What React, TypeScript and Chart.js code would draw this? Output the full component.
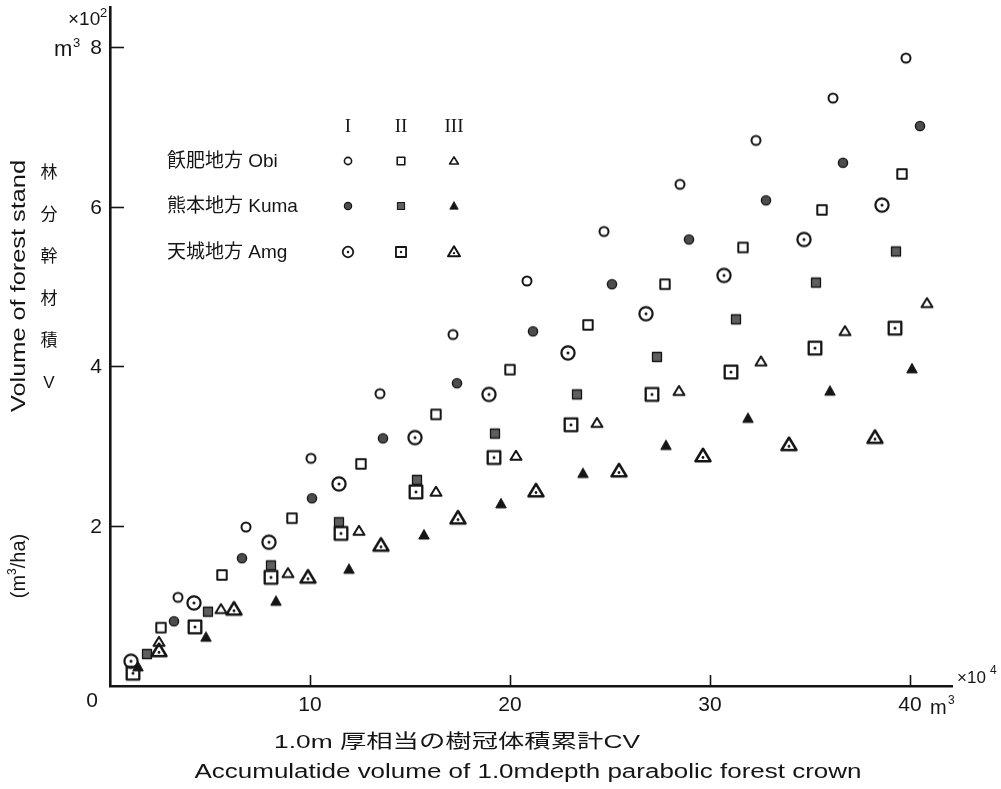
import React, { useEffect, useRef } from "react";
import { Chart, registerables } from "chart.js";

Chart.register(...registerables);

// Accumulated crown volume CV (×10^4 m³) and stand volume V (×10^2 m³/ha)
// Obi region
const OBI_I_CV = [3.4, 6.8, 10.05, 13.5, 17.15, 20.85, 24.7, 28.5, 32.3, 36.15, 39.8];
const OBI_I_V = [1.11, 1.99, 2.85, 3.66, 4.4, 5.07, 5.69, 6.28, 6.83, 7.36, 7.86];
const OBI_II_CV = [2.55, 5.6, 9.1, 12.55, 16.3, 20.0, 23.9, 27.75, 31.65, 35.6, 39.6];
const OBI_II_V = [0.73, 1.39, 2.1, 2.78, 3.4, 3.96, 4.52, 5.03, 5.49, 5.96, 6.41];
const OBI_III_CV = [2.45, 5.55, 8.9, 12.45, 16.3, 20.3, 24.35, 28.45, 32.55, 36.75, 40.85];
const OBI_III_V = [0.55, 0.96, 1.41, 1.94, 2.43, 2.88, 3.29, 3.69, 4.06, 4.44, 4.79];

// Kuma region
const KUMA_I_CV = [3.2, 6.6, 10.1, 13.65, 17.35, 21.15, 25.1, 28.95, 32.8, 36.65, 40.5];
const KUMA_I_V = [0.81, 1.6, 2.35, 3.1, 3.79, 4.44, 5.03, 5.59, 6.08, 6.55, 7.01];
const KUMA_II_CV = [1.85, 4.9, 8.05, 11.45, 15.35, 19.25, 23.35, 27.35, 31.3, 35.3, 39.3];
const KUMA_II_V = [0.4, 0.93, 1.51, 2.05, 2.58, 3.16, 3.65, 4.12, 4.59, 5.05, 5.44];
const KUMA_III_CV = [1.4, 4.8, 8.3, 11.95, 15.7, 19.55, 23.65, 27.8, 31.9, 36.0, 40.1];
const KUMA_III_V = [0.24, 0.61, 1.06, 1.46, 1.89, 2.28, 2.66, 3.01, 3.35, 3.69, 3.97];

// Amagi region
const AMG_I_CV = [1.05, 4.2, 7.95, 11.45, 15.25, 18.95, 22.9, 26.8, 30.7, 34.7, 38.6];
const AMG_I_V = [0.31, 1.04, 1.8, 2.53, 3.11, 3.65, 4.17, 4.66, 5.14, 5.59, 6.02];
const AMG_II_CV = [1.15, 4.25, 8.05, 11.55, 15.3, 19.2, 23.05, 27.1, 31.05, 35.25, 39.25];
const AMG_II_V = [0.16, 0.74, 1.36, 1.91, 2.43, 2.86, 3.27, 3.65, 3.93, 4.23, 4.48];
const AMG_III_CV = [2.45, 6.2, 9.9, 13.55, 17.4, 21.3, 25.45, 29.65, 33.95, 38.25];
const AMG_III_V = [0.44, 0.96, 1.36, 1.76, 2.1, 2.44, 2.69, 2.88, 3.02, 3.11];

const X_TICKS = [10, 20, 30, 40];
const Y_TICKS = [2, 4, 6, 8];
const REGION_LABELS = ["飫肥地方 Obi", "熊本地方 Kuma", "天城地方 Amg"];
const CLASS_LABELS = ["I", "II", "III"];
const Y_TITLE = "Volume of forest stand";
const Y_TITLE_JA = ["林", "分", "幹", "材", "積", "V"];
const X_TITLE_JA = "1.0m 厚相当の樹冠体積累計CV";
const X_TITLE_EN = "Accumulatide volume of 1.0mdepth parabolic forest crown";

const INK = "#151515";
const SANS = '"Liberation Sans", "Noto Sans CJK JP", sans-serif';
const SERIF = '"Liberation Serif", "DejaVu Serif", serif';

type MarkerKind =
  | "openCircle" | "filledCircle" | "dotCircle"
  | "openSquare" | "filledSquare" | "dotSquare"
  | "openTriangle" | "filledTriangle" | "dotTriangle";

// rows: region, columns: site class
const MARKER_GRID: MarkerKind[][] = [
  ["openCircle", "openSquare", "openTriangle"],
  ["filledCircle", "filledSquare", "filledTriangle"],
  ["dotCircle", "dotSquare", "dotTriangle"],
];

function makeMarker(kind: MarkerKind, scale = 1): HTMLCanvasElement {
  const S = 22;
  const c = document.createElement("canvas");
  c.width = S;
  c.height = S;
  const g = c.getContext("2d")!;
  g.translate(S / 2, S / 2);
  g.scale(scale, scale);
  g.strokeStyle = INK;
  g.fillStyle = INK;
  g.lineJoin = "round";
  const tri = (h: number, w: number, dy: number) => {
    g.beginPath();
    g.moveTo(0, -h * 0.58 + dy);
    g.lineTo(w / 2, h * 0.42 + dy);
    g.lineTo(-w / 2, h * 0.42 + dy);
    g.closePath();
  };
  switch (kind) {
    case "openCircle":
      g.lineWidth = 2;
      g.beginPath();
      g.arc(0, 0, 4.5, 0, Math.PI * 2);
      g.stroke();
      break;
    case "filledCircle":
      g.fillStyle = "#4d4d4d";
      g.beginPath();
      g.arc(0, 0, 4.6, 0, Math.PI * 2);
      g.fill();
      g.lineWidth = 1.4;
      g.stroke();
      break;
    case "dotCircle":
      g.lineWidth = 2.2;
      g.beginPath();
      g.arc(0, 0, 6.6, 0, Math.PI * 2);
      g.stroke();
      g.beginPath();
      g.arc(0, 0, 1.5, 0, Math.PI * 2);
      g.fill();
      break;
    case "openSquare":
      g.lineWidth = 2;
      g.strokeRect(-4.7, -4.7, 9.4, 9.4);
      break;
    case "filledSquare":
      g.fillStyle = "#5e5e5e";
      g.fillRect(-4.5, -4.5, 9, 9);
      g.lineWidth = 1.3;
      g.strokeRect(-4.5, -4.5, 9, 9);
      break;
    case "dotSquare":
      g.lineWidth = 2.3;
      g.strokeRect(-6.3, -6.3, 12.6, 12.6);
      g.beginPath();
      g.arc(0, 0, 1.5, 0, Math.PI * 2);
      g.fill();
      break;
    case "openTriangle":
      g.lineWidth = 2;
      tri(9, 11, 0);
      g.stroke();
      break;
    case "filledTriangle":
      tri(9.5, 10.5, 0);
      g.fill();
      g.lineWidth = 1;
      g.stroke();
      break;
    case "dotTriangle":
      g.lineWidth = 2.5;
      tri(12.5, 15, 0);
      g.stroke();
      g.beginPath();
      g.arc(0, 1.5, 1.4, 0, Math.PI * 2);
      g.fill();
      break;
  }
  return c;
}

function toPoints(xs: number[], ys: number[]) {
  return xs.map((x, i) => ({ x, y: ys[i] }));
}

// Draws text stretched horizontally to the requested width, centred on (cx, cy)
function fitText(
  ctx: CanvasRenderingContext2D,
  text: string,
  cx: number,
  cy: number,
  width: number,
  font: string,
  rotate = 0
) {
  ctx.save();
  ctx.font = font;
  ctx.textAlign = "center";
  ctx.textBaseline = "middle";
  const w = ctx.measureText(text).width;
  ctx.translate(cx, cy);
  if (rotate) ctx.rotate(rotate);
  ctx.scale(width / w, 1);
  ctx.fillText(text, 0, 0);
  ctx.restore();
}

export default function App() {
  const ref = useRef<HTMLCanvasElement | null>(null);

  useEffect(() => {
    document.body.style.margin = "0";
    const canvas = ref.current;
    if (!canvas) return;

    const seriesSrc: [number[], number[], number, number][] = [
      [AMG_II_CV, AMG_II_V, 2, 1],
      [AMG_III_CV, AMG_III_V, 2, 2],
      [AMG_I_CV, AMG_I_V, 2, 0],
      [OBI_II_CV, OBI_II_V, 0, 1],
      [OBI_III_CV, OBI_III_V, 0, 2],
      [OBI_I_CV, OBI_I_V, 0, 0],
      [KUMA_II_CV, KUMA_II_V, 1, 1],
      [KUMA_III_CV, KUMA_III_V, 1, 2],
      [KUMA_I_CV, KUMA_I_V, 1, 0],
    ];

    const datasets = seriesSrc.map(([xs, ys, r, c]) => ({
      label: `${REGION_LABELS[r]} ${CLASS_LABELS[c]}`,
      data: toPoints(xs, ys),
      pointStyle: makeMarker(MARKER_GRID[r][c]),
      pointRadius: 6,
      showLine: false,
    }));

    const legendMarkers = MARKER_GRID.map((row) => row.map((k) => makeMarker(k, 0.8)));

    const overlay = {
      id: "overlay",
      afterDraw(chart: any) {
        const { ctx, chartArea } = chart;
        const xs = chart.scales.x;
        const ys = chart.scales.y;
        ctx.save();
        ctx.strokeStyle = INK;
        ctx.fillStyle = INK;
        ctx.lineWidth = 1.6;

        // inward tick marks
        Y_TICKS.forEach((v) => {
          const py = Math.round(ys.getPixelForValue(v)) + 0.5;
          ctx.beginPath();
          ctx.moveTo(chartArea.left, py);
          ctx.lineTo(chartArea.left + 14, py);
          ctx.stroke();
        });
        X_TICKS.forEach((v) => {
          const px = Math.round(xs.getPixelForValue(v)) + 0.5;
          ctx.beginPath();
          ctx.moveTo(px, chartArea.bottom);
          ctx.lineTo(px, chartArea.bottom - 11);
          ctx.stroke();
        });

        // tick labels
        ctx.font = `21px ${SANS}`;
        ctx.textBaseline = "middle";
        ctx.textAlign = "right";
        Y_TICKS.forEach((v) => {
          const py = ys.getPixelForValue(v);
          ctx.fillText(String(v), chartArea.left - 8, py + 1);
        });
        ctx.textAlign = "center";
        X_TICKS.forEach((v) => {
          const px = xs.getPixelForValue(v);
          ctx.fillText(String(v), px, chartArea.bottom + 19);
        });
        ctx.fillText("0", chartArea.left - 18, chartArea.bottom + 15);

        // y unit: ×10² / m³
        ctx.textAlign = "left";
        ctx.font = `19px ${SANS}`;
        ctx.fillText("×10", 68, 20);
        ctx.font = `13px ${SANS}`;
        ctx.fillText("2", 100, 13);
        ctx.font = `22px ${SANS}`;
        ctx.fillText("m", 54, 50);
        ctx.font = `13px ${SANS}`;
        ctx.fillText("3", 73, 43);

        // x unit: ×10⁴ / m³
        ctx.font = `17px ${SANS}`;
        ctx.fillText("×10", 957, 678);
        ctx.font = `12px ${SANS}`;
        ctx.fillText("4", 990, 671);
        ctx.font = `20px ${SANS}`;
        ctx.fillText("m", 930, 708);
        ctx.font = `12px ${SANS}`;
        ctx.fillText("3", 948, 701);

        // y title
        fitText(ctx, Y_TITLE, 19, 286, 252, `20px ${SANS}`, -Math.PI / 2);
        ctx.save();
        ctx.translate(19, 566);
        ctx.rotate(-Math.PI / 2);
        ctx.textBaseline = "middle";
        ctx.textAlign = "left";
        ctx.font = `20px ${SANS}`;
        const p1 = "(m";
        const p3 = "/ha)";
        const w1 = ctx.measureText(p1).width;
        const w3 = ctx.measureText(p3).width;
        ctx.font = `12px ${SANS}`;
        const w2 = ctx.measureText("3").width;
        const total = w1 + w2 + w3;
        let cx = -total / 2;
        ctx.font = `20px ${SANS}`;
        ctx.fillText(p1, cx, 0);
        cx += w1;
        ctx.font = `12px ${SANS}`;
        ctx.fillText("3", cx, -6);
        cx += w2;
        ctx.font = `20px ${SANS}`;
        ctx.fillText(p3, cx, 0);
        ctx.restore();

        // vertical Japanese title
        ctx.textAlign = "center";
        ctx.font = `17px ${SANS}`;
        Y_TITLE_JA.forEach((ch, i) => {
          ctx.fillText(ch, 49, 173 + i * 42);
        });

        // x titles
        fitText(ctx, X_TITLE_JA, 457, 743, 366, `19px ${SANS}`);
        fitText(ctx, X_TITLE_EN, 528, 772, 667, `20px ${SANS}`);

        // legend
        ctx.font = `19px ${SERIF}`;
        ctx.textAlign = "center";
        const colX = [348, 401, 454];
        const rowY = [161, 206, 252];
        CLASS_LABELS.forEach((t, i) => ctx.fillText(t, colX[i], 127));
        ctx.textAlign = "left";
        REGION_LABELS.forEach((t, r) => {
          ctx.font = `19px ${SANS}`;
          ctx.fillText(t, 167, rowY[r] + 1);
          legendMarkers[r].forEach((m, c) => {
            ctx.drawImage(m, colX[c] - m.width / 2, rowY[r] - m.height / 2);
          });
        });

        ctx.restore();
      },
    };

    const chart = new Chart(canvas, {
      type: "scatter",
      data: { datasets },
      options: {
        responsive: false,
        animation: false,
        devicePixelRatio: 1,
        layout: { padding: { left: 110, right: 49, top: 7, bottom: 103 } },
        plugins: { legend: { display: false }, tooltip: { enabled: false } },
        scales: {
          x: {
            type: "linear",
            min: 0,
            max: 42.1,
            grid: { display: false, drawTicks: false },
            ticks: { display: false },
            border: { display: true, color: INK, width: 2.6 },
            afterFit: (s: any) => {
              s.height = 0;
            },
          },
          y: {
            type: "linear",
            min: 0,
            max: 8.5,
            grid: { display: false, drawTicks: false },
            ticks: { display: false },
            border: { display: true, color: INK, width: 2.6 },
            afterFit: (s: any) => {
              s.width = 0;
            },
          },
        },
      },
      plugins: [overlay],
    } as any);

    return () => chart.destroy();
  }, []);

  return (
    <div style={{ width: 1001, height: 789, background: "#fff" }}>
      <canvas ref={ref} width={1001} height={789} style={{ display: "block" }} />
    </div>
  );
}
